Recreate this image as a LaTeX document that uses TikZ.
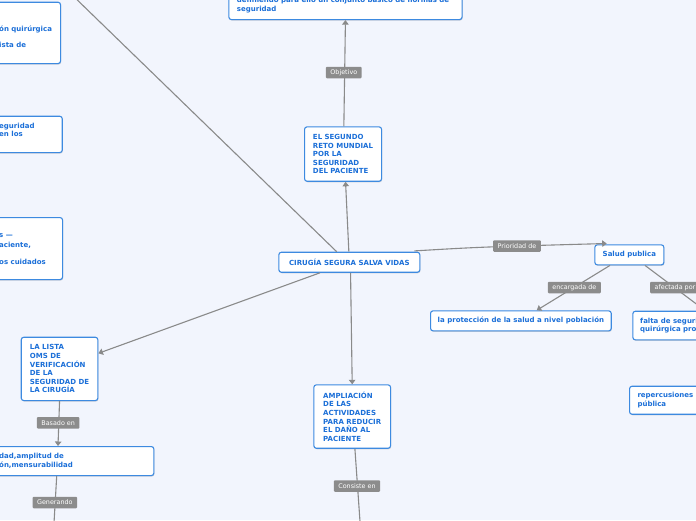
\documentclass[tikz,border=0pt]{standalone}
\usepackage{fontspec}
\setmainfont{DejaVu Sans}
\usetikzlibrary{arrows.meta,calc,shadows}
\definecolor{bgc}{HTML}{F2F5FD}
\definecolor{bordblue}{HTML}{3D8AE0}
\definecolor{txtblue}{HTML}{1B6FD8}
\definecolor{lnk}{HTML}{8A8A8A}
\definecolor{labfill}{HTML}{8C8C8C}
\begin{document}
\begin{tikzpicture}[x=1pt,y=-1pt,
  box/.style={draw=bordblue, line width=1.1pt, fill=white, rounded corners=2.5pt,
    drop shadow={shadow xshift=0.6pt, shadow yshift=-1pt, opacity=0.15, fill=black},
    inner sep=0pt, anchor=north west, align=left,
    font=\fontsize{7}{8.6}\selectfont\bfseries, text=txtblue},
  txt/.style={font=\fontsize{7}{8.6}\selectfont\bfseries, text=txtblue, anchor=base west, inner sep=0pt},
  lab/.style={fill=labfill, text=white, font=\fontsize{6.4}{7}\selectfont, inner xsep=4.5pt,
    inner ysep=0pt, minimum height=11.5pt, rounded corners=1pt},
  conn/.style={draw=lnk, line width=1.1pt},
  arr/.style={conn, -{Triangle[width=6.5pt,length=4.5pt]}}
]
\useasboundingbox (0,0) rectangle (696,520);
\fill[bgc] (0,0) rectangle (696,520);
\clip (0,0) rectangle (696,520);

% boxes
\node[box, minimum width=80pt, minimum height=61.3pt] (tl) at (-20,1.7) {};
\node[txt] (tla) at (-1,31) {ón quirúrgica};
\node[txt] (tlb) at (-1,47.5) {ista de};

\node[box, minimum width=233.2pt, minimum height=49pt] (top) at (228.3,-30) {};
\node[txt] (topa) at (236.7,2.4) {definiendo para ello un conjunto básico de normas de};
\node[txt] (topb) at (236.7,11) {seguridad};

\node[box, minimum width=81.7pt, minimum height=36.3pt] (lb) at (-20,115.7) {};
\node[txt] (lba) at (-1,128.3) {eguridad};
\node[txt] (lbb) at (-1,136.8) {en los};

\node[box, minimum width=82pt, minimum height=62pt] (lc) at (-20,217) {};
\node[txt] (lca) at (-1,237.5) {s —};
\node[txt] (lcb) at (-1,247.3) {aciente,};
\node[txt] (lcc) at (-1,264) {os cuidados};

\node[box, minimum width=77pt, minimum height=54.4pt] (seg) at (304,126.3)
  {EL SEGUNDO\\RETO MUNDIAL\\POR LA\\SEGURIDAD\\DEL PACIENTE};

\node[box, minimum width=141pt, minimum height=20pt, align=center] (central) at (278.3,251.7)
  {CIRUGÍA SEGURA SALVA VIDAS};

\node[box, minimum width=69pt, minimum height=20pt, align=center] (salud) at (594.3,244.3)
  {Salud publica};

\node[box, minimum width=180.7pt, minimum height=20pt, align=center] (prot) at (430,310.3)
  {la protección de la salud a nivel población};

\node[box, minimum width=110pt, minimum height=28.6pt] (falta) at (632.3,310.7) {};
\node[txt] (faltaa) at (640,323.3) {falta de seguridad};
\node[txt] (faltab) at (640,331.8) {quirúrgica pro};

\node[box, minimum width=76.6pt, minimum height=63.3pt] (lista) at (20.7,336.7)
  {LA LISTA\\OMS DE\\VERIFICACIÓN\\DE LA\\SEGURIDAD DE\\LA CIRUGÍA};

\node[box, minimum width=76.7pt, minimum height=63.4pt] (ampl) at (313.3,384.3)
  {AMPLIACIÓN\\DE LAS\\ACTIVIDADES\\PARA REDUCIR\\EL DAÑO AL\\PACIENTE};

\node[box, minimum width=110pt, minimum height=28pt] (rep) at (629,385.7) {};
\node[txt] (repa) at (637.3,397.6) {repercusiones la salud};
\node[txt] (repb) at (637.3,406.1) {pública};

\node[box, minimum width=213.3pt, minimum height=29pt] (dad) at (-60,446) {};
\node[txt] (dada) at (-1,458.8) {dad,amplitud de};
\node[txt] (dadb) at (-1,467.3) {ón,mensurabilidad};

% free ends
\coordinate (offtl) at (67,-10);
\coordinate (offdad) at (53.6,530);
\coordinate (offampl) at (360.6,530);

% connectors
\draw[conn] ($(central.north west)+(58.4,0)$) -- (offtl);
\draw[arr] ($(central.north)+(-0.5,0)$) -- ($(seg.south)+(2.5,0)$);
\draw[arr] ($(seg.north)+(0.8,0)$) -- (top.south);
\draw[arr] ($(central.north east)+(-6,-0.8)$) .. controls (480,247) .. ($(salud.north west)+(12.4,-0.8)$);
\draw[arr] ($(salud.south west)+(15.7,0)$) -- ($(prot.north west)+(106.7,0)$);
\draw[arr] ($(salud.south west)+(50.7,0)$) -- ($(falta.north west)+(73,0)$);
\draw[arr] ($(central.south west)+(41.7,0)$) -- ($(lista.north east)+(0,16.6)$);
\draw[arr] ($(central.south)+(1.2,0)$) -- (ampl.north);
\draw[arr] (lista.south) -- ($(dad.north west)+(118,0)$);
\draw[conn] ($(dad.south west)+(116.7,0)$) -- (offdad);
\draw[conn] ($(ampl.south)+(2.7,0)$) -- (offampl);

% labels
\node[lab] (lobj) at (343.8,72.5) {Objetivo};
\node[lab] (lprio) at (517,246) {Prioridad de};
\node[lab] (lenc) at (574.3,287.5) {encargada de};
\node[lab] (lafe) at (675,287.5) {afectada por};
\node[lab] (lbas) at (58.2,422.8) {Basado en};
\node[lab] (lgen) at (54.8,502.5) {Generando};
\node[lab] (lcon) at (357,486) {Consiste en};
\end{tikzpicture}
\end{document}
